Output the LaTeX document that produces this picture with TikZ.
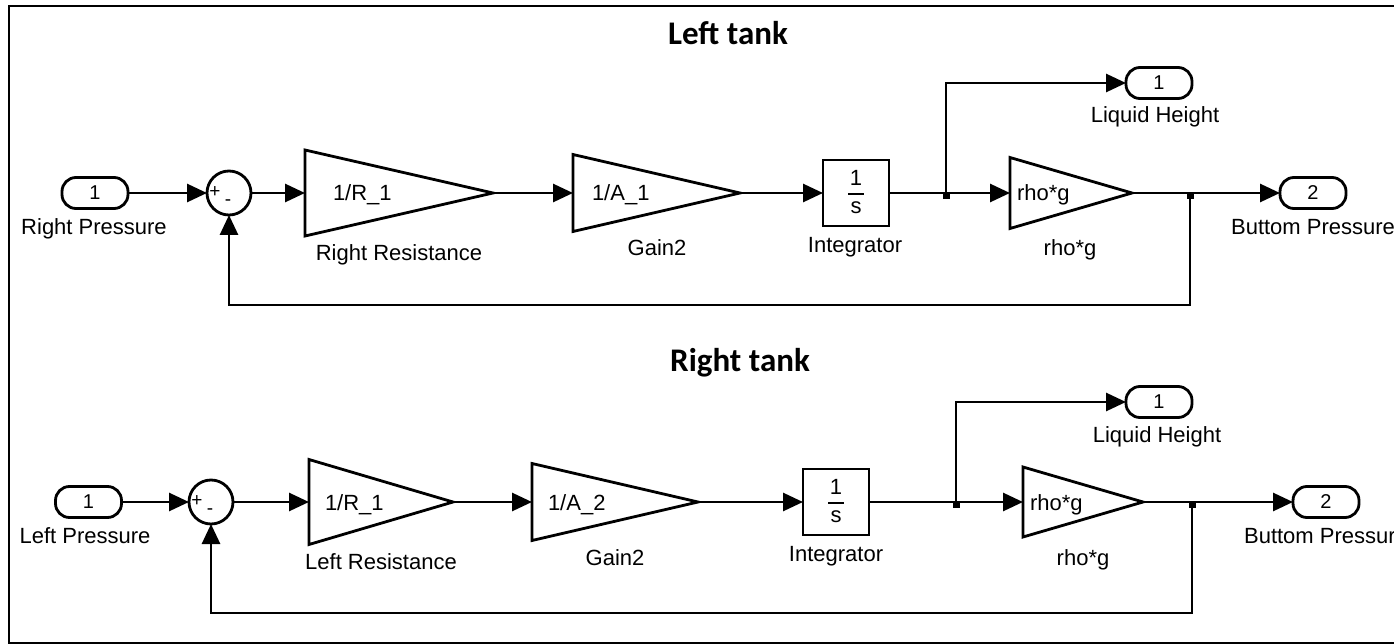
\documentclass[tikz,border=0pt]{standalone}
\usepackage{fontspec}
\setmainfont{Liberation Sans}
\newfontfamily\titlefont{Carlito}
\usetikzlibrary{arrows.meta,calc}

\begin{document}
\begin{tikzpicture}[x=1pt,y=-1pt,
  every node/.style={font=\fontsize{22}{24}\selectfont, inner sep=0pt, outer sep=0pt},
  line/.style={line width=2.8pt},
  wire/.style={line width=2.8pt, -{Triangle[length=20pt,width=18pt]}},
  port/.style={draw, line width=2.8pt, rounded corners=14pt, minimum width=66pt,
    minimum height=31pt, font=\fontsize{20}{22}\selectfont},
  sumblk/.style={draw, circle, line width=2.8pt, minimum size=44pt},
  intblk/.style={draw, line width=2.8pt, minimum width=66pt, minimum height=66pt},
  gainbox/.style={minimum width=#1},
  lbl/.style={anchor=base},
  gtxt/.style={anchor=base west},
  sgn/.style={font=\fontsize{19}{19}\selectfont},
  title/.style={font=\titlefont\bfseries\fontsize{33}{36}\selectfont},
  tri/.style={line width=2.8pt, line join=miter},
  dot/.style={fill=black}
]
\useasboundingbox (0,0) rectangle (1394,644);

% frame
\draw[line width=2.2pt] (1400,6) -- (9,6) -- (9,643) -- (1400,643);

% ---------- Left tank ----------
\node[title] (t1) at (728,33) {Left tank};

\node[port] (in1) at (95,193) {1};
\node[lbl] (in1l) at (94,235) {Right Pressure};
\node[sumblk] (sum1) at (229,193) {};
\node[sgn] (p1) at (215,192) {+};
\node[sgn] (m1) at (228,203) {-};

\node[gainbox=188pt, minimum height=86pt] (g1) at (399,193) {};
\draw[tri] (g1.north west) -- (g1.east) -- (g1.south west) -- cycle;
\node[gtxt] (g1t) at (333,201) {1/R\_1};
\node[lbl] (g1l) at (399,261) {Right Resistance};

\node[gainbox=167pt, minimum height=77pt] (g2) at (656.5,193) {};
\draw[tri] (g2.north west) -- (g2.east) -- (g2.south west) -- cycle;
\node[gtxt] (g2t) at (592,201) {1/A\_1};
\node[lbl] (g2l) at (657,256) {Gain2};

\node[intblk] (int1) at (856,193) {};
\node (int1n) at (856,178) {1};
\draw[line width=2.8pt] (848,194) -- (864,194);
\node (int1d) at (856,208) {s};
\node[lbl] (int1l) at (855,253) {Integrator};

\coordinate (b1) at (946,193);
\node[port] (lh1) at (1159,83) {1};
\node[lbl] (lh1l) at (1155,123) {Liquid Height};

\node[gainbox=122pt, minimum height=71pt] (g3) at (1071,193) {};
\draw[tri] (g3.north west) -- (g3.east) -- (g3.south west) -- cycle;
\node[gtxt] (g3t) at (1017,201) {rho*g};
\node[lbl] (g3l) at (1070,256) {rho*g};

\coordinate (b2) at (1190,193);
\coordinate (fb1) at (1190,305);
\node[port] (out1) at (1313,193) {2};
\node[lbl] (out1l) at (1313,235) {Buttom Pressure};

\draw[wire] (in1) -- (sum1);
\draw[wire] (sum1) -- (g1.west);
\draw[wire] (g1.east) -- (g2.west);
\draw[wire] (g2.east) -- (int1);
\draw[line] (int1) -- (b1);
\draw[wire] (b1) -- (g3.west);
\draw[wire] (b1) |- (lh1);
\draw[line] (g3.east) -- (b2);
\draw[wire] (b2) -- (out1);
\draw[wire] (b2) -- (fb1) -| (sum1.south);
\fill[dot] ($(b1)+(-3.5,-1)$) rectangle ($(b1)+(3.5,6)$);
\fill[dot] ($(b2)+(-3.5,-1)$) rectangle ($(b2)+(3.5,6)$);

% ---------- Right tank ----------
\node[title] (t2) at (740,363) {Right tank};

\node[port] (in2) at (88.5,502) {1};
\node[lbl] (in2l) at (85,543) {Left Pressure};
\node[sumblk] (sum2) at (211,502) {};
\node[sgn] (p2) at (197,501) {+};
\node[sgn] (m2) at (210,512) {-};

\node[gainbox=144pt, minimum height=85pt] (g4) at (381,502) {};
\draw[tri] (g4.north west) -- (g4.east) -- (g4.south west) -- cycle;
\node[gtxt] (g4t) at (325,510) {1/R\_1};
\node[lbl] (g4l) at (381,569) {Left Resistance};

\node[gainbox=166pt, minimum height=77pt] (g5) at (615,502) {};
\draw[tri] (g5.north west) -- (g5.east) -- (g5.south west) -- cycle;
\node[gtxt] (g5t) at (548,510) {1/A\_2};
\node[lbl] (g5l) at (615,565) {Gain2};

\node[intblk] (int2) at (836,502) {};
\node (int2n) at (836,487) {1};
\draw[line width=2.8pt] (828,503) -- (844,503);
\node (int2d) at (836,517) {s};
\node[lbl] (int2l) at (836,561) {Integrator};

\coordinate (b3) at (956,502);
\node[port] (lh2) at (1159,402) {1};
\node[lbl] (lh2l) at (1157,442) {Liquid Height};

\node[gainbox=120pt, minimum height=70pt] (g6) at (1083,502) {};
\draw[tri] (g6.north west) -- (g6.east) -- (g6.south west) -- cycle;
\node[gtxt] (g6t) at (1030,510) {rho*g};
\node[lbl] (g6l) at (1083,565) {rho*g};

\coordinate (b4) at (1192,502);
\coordinate (fb2) at (1192,613);
\node[port] (out2) at (1326,502) {2};
\node[lbl] (out2l) at (1326,543) {Buttom Pressure};

\draw[wire] (in2) -- (sum2);
\draw[wire] (sum2) -- (g4.west);
\draw[wire] (g4.east) -- (g5.west);
\draw[wire] (g5.east) -- (int2);
\draw[line] (int2) -- (b3);
\draw[wire] (b3) -- (g6.west);
\draw[wire] (b3) |- (lh2);
\draw[line] (g6.east) -- (b4);
\draw[wire] (b4) -- (out2);
\draw[wire] (b4) -- (fb2) -| (sum2.south);
\fill[dot] ($(b3)+(-3.5,-1)$) rectangle ($(b3)+(3.5,6)$);
\fill[dot] ($(b4)+(-3.5,-1)$) rectangle ($(b4)+(3.5,6)$);
\end{tikzpicture}
\end{document}
